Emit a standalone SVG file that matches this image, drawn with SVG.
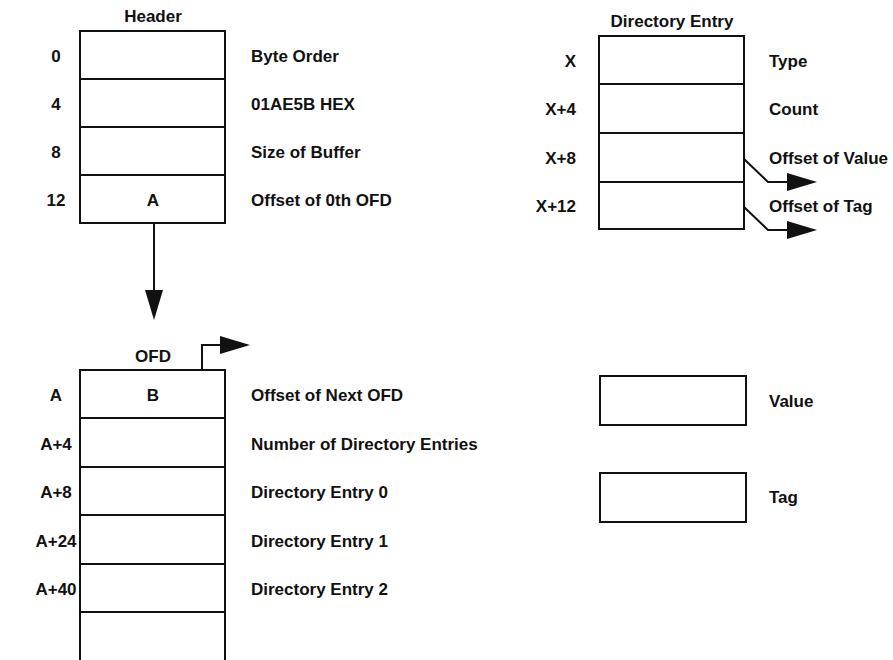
<svg xmlns="http://www.w3.org/2000/svg" width="893" height="660" viewBox="0 0 893 660">
<style>
.t{font-family:"Liberation Sans",Arial,sans-serif;font-weight:bold;font-size:17px;fill:#111}
.m{text-anchor:middle}
.e{text-anchor:end}
.b{fill:#fff;stroke:#111;stroke-width:2}
.l{fill:none;stroke:#111;stroke-width:2}
.h{fill:#111;stroke:none}
</style>
<rect width="893" height="660" fill="#fff"/>
<g id="header">
<text class="t m" x="153" y="22">Header</text>
<rect class="b" x="80" y="31" width="145" height="192"/>
<line class="l" x1="80" y1="79" x2="225" y2="79"/>
<line class="l" x1="80" y1="127" x2="225" y2="127"/>
<line class="l" x1="80" y1="175" x2="225" y2="175"/>
<text class="t m" x="153" y="206">A</text>
<text class="t m" x="56" y="62">0</text>
<text class="t m" x="56" y="110">4</text>
<text class="t m" x="56" y="158">8</text>
<text class="t m" x="56" y="206">12</text>
<text class="t" x="251" y="62">Byte Order</text>
<text class="t" x="251" y="110">01AE5B HEX</text>
<text class="t" x="251" y="158">Size of Buffer</text>
<text class="t" x="251" y="206">Offset of 0th OFD</text>
</g>
<g id="ofd">
<text class="t m" x="153" y="362">OFD</text>
<rect class="b" x="80" y="370" width="145" height="300"/>
<line class="l" x1="80" y1="418" x2="225" y2="418"/>
<line class="l" x1="80" y1="467" x2="225" y2="467"/>
<line class="l" x1="80" y1="515" x2="225" y2="515"/>
<line class="l" x1="80" y1="564" x2="225" y2="564"/>
<line class="l" x1="80" y1="612" x2="225" y2="612"/>
<text class="t m" x="153" y="401">B</text>
<text class="t m" x="56" y="401">A</text>
<text class="t m" x="56" y="450">A+4</text>
<text class="t m" x="56" y="498">A+8</text>
<text class="t m" x="56" y="547">A+24</text>
<text class="t m" x="56" y="595">A+40</text>
<text class="t" x="251" y="401">Offset of Next OFD</text>
<text class="t" x="251" y="450">Number of Directory Entries</text>
<text class="t" x="251" y="498">Directory Entry 0</text>
<text class="t" x="251" y="547">Directory Entry 1</text>
<text class="t" x="251" y="595">Directory Entry 2</text>
</g>
<g id="direntry">
<text class="t m" x="672" y="27">Directory Entry</text>
<rect class="b" x="599" y="36" width="145" height="193"/>
<line class="l" x1="599" y1="84" x2="744" y2="84"/>
<line class="l" x1="599" y1="133" x2="744" y2="133"/>
<line class="l" x1="599" y1="182" x2="744" y2="182"/>
<text class="t e" x="576" y="67">X</text>
<text class="t e" x="576" y="115">X+4</text>
<text class="t e" x="576" y="164">X+8</text>
<text class="t e" x="576" y="212">X+12</text>
<text class="t" x="769" y="67">Type</text>
<text class="t" x="769" y="115">Count</text>
<text class="t" x="769" y="164">Offset of Value</text>
<text class="t" x="769" y="212">Offset of Tag</text>
</g>
<g id="value">
<rect class="b" x="600" y="376" width="146" height="49"/>
<text class="t" x="769" y="407">Value</text>
</g>
<g id="tag">
<rect class="b" x="600" y="473" width="146" height="49"/>
<text class="t" x="769" y="503">Tag</text>
</g>
<g id="connectors">
<line class="l" x1="154" y1="223" x2="154" y2="292"/>
<polygon class="h" points="145,290 163,290 154,320"/>
<polyline class="l" points="202,370 202,345 222,345"/>
<polygon class="h" points="220,336 220,354 250,345"/>
<polyline class="l" points="744,159 768,182 789,182"/>
<polygon class="h" points="787,173 787,191 817,182"/>
<polyline class="l" points="744,207 768,230 789,230"/>
<polygon class="h" points="787,221 787,239 817,230"/>
</g>
</svg>
